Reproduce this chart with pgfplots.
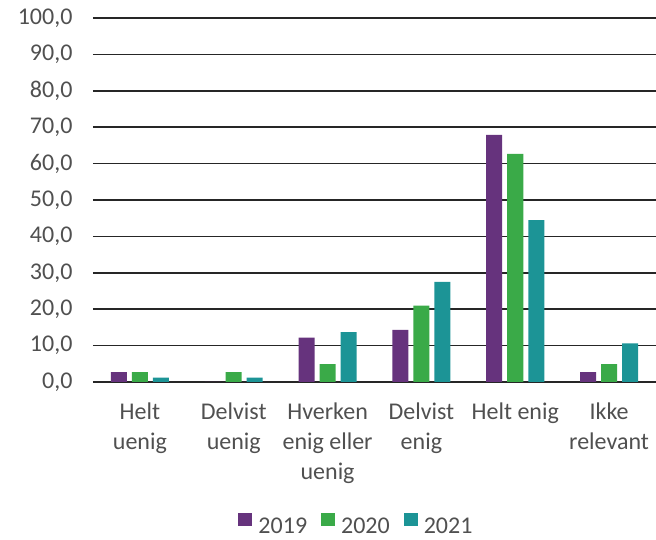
\documentclass[border=0pt]{standalone}
\usepackage{pgfplots}
\pgfplotsset{compat=1.18}
\usepackage{fontspec}
\setmainfont{Carlito}
\definecolor{c19}{RGB}{102,51,125}
\definecolor{c20}{RGB}{58,170,72}
\definecolor{c21}{RGB}{28,148,150}
\definecolor{txt}{RGB}{80,80,80}
\begin{document}
\begin{tikzpicture}
\useasboundingbox (-93pt,-158pt) rectangle (563pt,382pt);
\begin{axis}[
  at={(0,0)}, anchor=south west,
  scale only axis, width=563pt, height=364pt,
  ybar=5pt, bar width=16pt,
  xmin=-0.5, xmax=5.5, ymin=0, ymax=100,
  enlarge x limits=false,
  xtick=data,
  xticklabels={{Helt\\uenig},{Delvist\\uenig},{Hverken\\enig eller\\uenig},{Delvist\\enig},{Helt enig},{Ikke\\relevant}},
  ytick={0,10,...,100},
  axis line style={draw=none},
  major tick style={draw=none},
  ymajorgrids,
  grid style={black!85, line width=1.6pt},
  tick label style={font=\fontsize{24}{30}\selectfont, text=txt},
  xticklabel style={align=center, anchor=north, yshift=-13pt},
  yticklabel style={anchor=east, xshift=-17pt},
  /pgf/number format/.cd, fixed, fixed zerofill, precision=1, use comma, assume math mode=true,
  /pgfplots/.cd,
  legend columns=3,
  legend style={draw=none, fill=none, at={(0.468,-0.393)}, anchor=center,
    font=\fontsize{24}{29}\selectfont, text=txt,
    /tikz/every even column/.append style={column sep=12pt}},
  legend image code/.code={\fill[#1] (0pt,0pt) rectangle (14pt,13pt); \path (18pt,-7pt);},
]
\addplot[fill=c19, draw=none] coordinates {(0,2.7) (1,0) (2,12.2) (3,14.3) (4,67.9) (5,2.7)};
\addplot[fill=c20, draw=none] coordinates {(0,2.7) (1,2.7) (2,4.9) (3,21.0) (4,62.7) (5,4.9)};
\addplot[fill=c21, draw=none] coordinates {(0,1.2) (1,1.2) (2,13.7) (3,27.5) (4,44.5) (5,10.6)};
\legend{2019,2020,2021}
\end{axis}
\end{tikzpicture}
\end{document}
